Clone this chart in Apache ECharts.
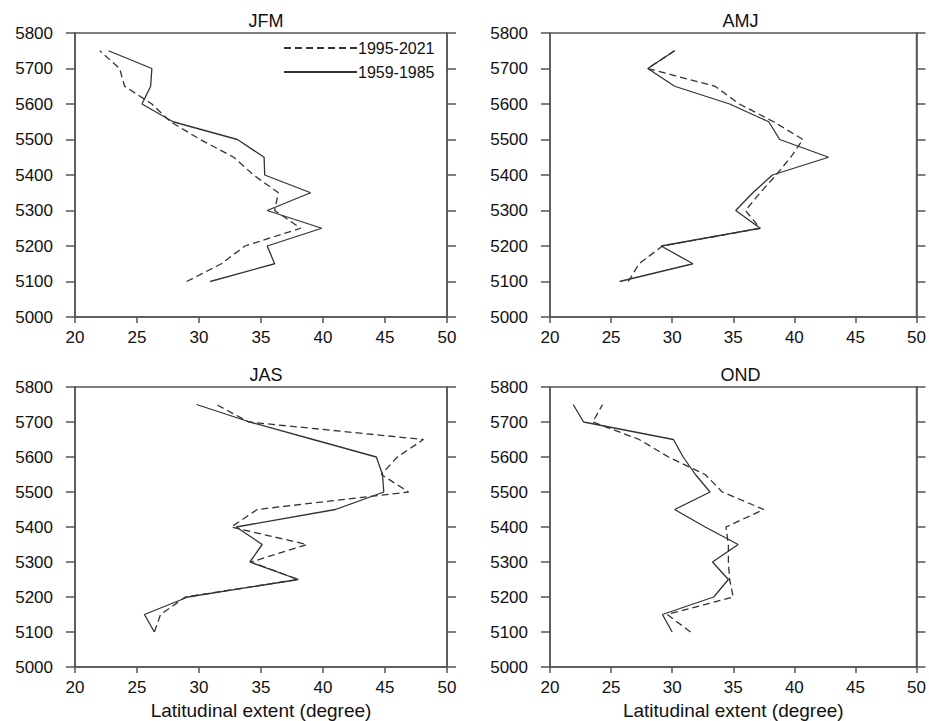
<!DOCTYPE html>
<html>
<head>
<meta charset="utf-8">
<script src="https://cdn.jsdelivr.net/npm/echarts@6/dist/echarts.min.js"></script>
<style>
  html, body { margin: 0; padding: 0; background: #fff; }
  #chart { width: 929px; height: 721px; }
</style>
</head>
<body>
<div id="chart"></div>
<script>
// geopotential height levels (gpm), shared by every panel
const heights = [5100, 5150, 5200, 5250, 5300, 5350, 5400, 5450, 5500, 5550, 5600, 5650, 5700, 5750];
const seasons = ["JFM", "AMJ", "JAS", "OND"];
const periodNames = ["1995-2021", "1959-1985"];
const xTicks = [20, 25, 30, 35, 40, 45, 50];
const yTicks = [5000, 5100, 5200, 5300, 5400, 5500, 5600, 5700, 5800];

// latitudinal extent (degree), 1995-2021
const jfmRecent = [29.0, 31.8, 33.7, 38.2, 36.1, 36.4, 34.4, 32.8, 30.1, 27.7, 26.2, 24.0, 23.6, 22.0];
const amjRecent = [26.4, 27.3, 29.2, 37.2, 36.0, 37.2, 38.5, 39.7, 40.7, 38.3, 35.5, 33.5, 28.0, 30.2];
const jasRecent = [26.4, 26.9, 28.9, 38.0, 34.2, 38.7, 32.6, 34.7, 46.9, 44.7, 46.0, 48.1, 34.0, 31.4];
const ondRecent = [31.5, 29.6, 35.0, 34.7, 34.6, 34.6, 34.4, 37.5, 34.1, 32.7, 29.7, 27.3, 23.5, 24.3];

// latitudinal extent (degree), 1959-1985
const jfmEarly = [30.9, 36.1, 35.5, 39.9, 35.5, 39.0, 35.3, 35.25, 33.1, 27.9, 25.4, 26.1, 26.2, 22.7];
const amjEarly = [25.7, 31.7, 29.1, 37.2, 35.2, 36.6, 38.2, 42.8, 38.8, 37.9, 34.7, 30.2, 28.0, 30.2];
const jasEarly = [26.4, 25.6, 29.1, 38.0, 34.1, 35.1, 33.0, 41.0, 44.9, 44.8, 44.3, 39.2, 34.1, 29.8];
const ondEarly = [30.0, 29.2, 33.4, 34.6, 33.3, 35.4, 32.7, 30.2, 33.1, 31.9, 30.9, 30.1, 22.75, 21.9];

const recent = [jfmRecent, amjRecent, jasRecent, ondRecent];
const early = [jfmEarly, amjEarly, jasEarly, ondEarly];

const myChart = echarts.init(document.getElementById("chart"), null, {
  renderer: "svg",
});

const font = "Liberation Sans";
const frameColor = "#555";
const lineColor = "#333";
const textColor = "#111";

// panel boxes [left, top, width, height]
const boxes = [
  [75, 33, 372, 284],
  [550, 33, 371, 284],
  [75, 387, 372, 283],
  [550, 387, 371, 283],
];

function pairs(xs) {
  return xs.map(function (x, i) {
    return [x, heights[i]];
  });
}

var grid = [];
var xAxis = [];
var yAxis = [];
var title = [];
var series = [];

boxes.forEach(function (b, i) {
  grid.push({
    left: b[0],
    top: b[1],
    width: b[2],
    height: b[3],
    show: true,
    borderColor: frameColor,
    borderWidth: 1.5,
    containLabel: false,
  });

  title.push({
    text: seasons[i],
    left: b[0] + b[2] / 2,
    top: b[1] - 26,
    textAlign: "center",
    textStyle: { fontFamily: font, fontSize: 18, fontWeight: "normal", color: textColor },
  });

  xAxis.push({
    type: "value",
    gridIndex: i,
    min: 20,
    max: 50,
    interval: 5,
    name: i >= 2 ? "Latitudinal extent (degree)" : "",
    nameLocation: "middle",
    nameGap: 34,
    nameTextStyle: { fontFamily: font, fontSize: 19, color: textColor },
    axisLine: { show: true, onZero: false, lineStyle: { color: frameColor, width: 1.5 } },
    axisTick: { show: true, inside: false, length: 6, lineStyle: { color: frameColor, width: 1.5 } },
    axisLabel: {
      margin: 12,
      fontFamily: font,
      fontSize: 17,
      color: textColor,
      formatter: function (v) {
        return xTicks.indexOf(v) >= 0 ? String(v) : "";
      },
    },
    splitLine: { show: false },
  });

  // left axis with labels
  yAxis.push({
    type: "value",
    gridIndex: i,
    position: "left",
    min: 5000,
    max: 5800,
    interval: 100,
    axisLine: { show: true, onZero: false, lineStyle: { color: frameColor, width: 1.5 } },
    axisTick: { show: true, inside: false, length: 9, lineStyle: { color: frameColor, width: 1.5 } },
    axisLabel: {
      margin: 22,
      fontFamily: font,
      fontSize: 17,
      color: textColor,
      formatter: function (v) {
        return yTicks.indexOf(v) >= 0 ? String(v) : "";
      },
    },
    splitLine: { show: false },
  });
  // right axis, ticks only
  yAxis.push({
    type: "value",
    gridIndex: i,
    position: "right",
    min: 5000,
    max: 5800,
    interval: 100,
    axisLine: { show: true, onZero: false, lineStyle: { color: frameColor, width: 1.5 } },
    axisTick: { show: true, inside: false, length: 9, lineStyle: { color: frameColor, width: 1.5 } },
    axisLabel: { show: false },
    splitLine: { show: false },
  });

  series.push({
    name: periodNames[0],
    type: "line",
    xAxisIndex: i,
    yAxisIndex: i * 2,
    data: pairs(recent[i]),
    symbol: "none",
    silent: true,
    lineStyle: { color: lineColor, width: 1.3, type: [7, 4] },
    itemStyle: { color: lineColor },
  });
  series.push({
    name: periodNames[1],
    type: "line",
    xAxisIndex: i,
    yAxisIndex: i * 2,
    data: pairs(early[i]),
    symbol: "none",
    silent: true,
    lineStyle: { color: lineColor, width: 1.3, type: "solid" },
    itemStyle: { color: lineColor },
  });
});

var option = {
  backgroundColor: "#fff",
  animation: false,
  title: title,
  legend: {
    data: periodNames,
    orient: "vertical",
    left: 278,
    top: 35,
    itemWidth: 73,
    itemHeight: 14,
    itemGap: 8,
    itemStyle: { color: "rgba(0,0,0,0)", borderWidth: 0 },
    textStyle: { fontFamily: font, fontSize: 16, color: textColor, padding: [0, 0, 0, -4] },
  },
  grid: grid,
  xAxis: xAxis,
  yAxis: yAxis,
  series: series,
};

option && myChart.setOption(option);
</script>
</body>
</html>
